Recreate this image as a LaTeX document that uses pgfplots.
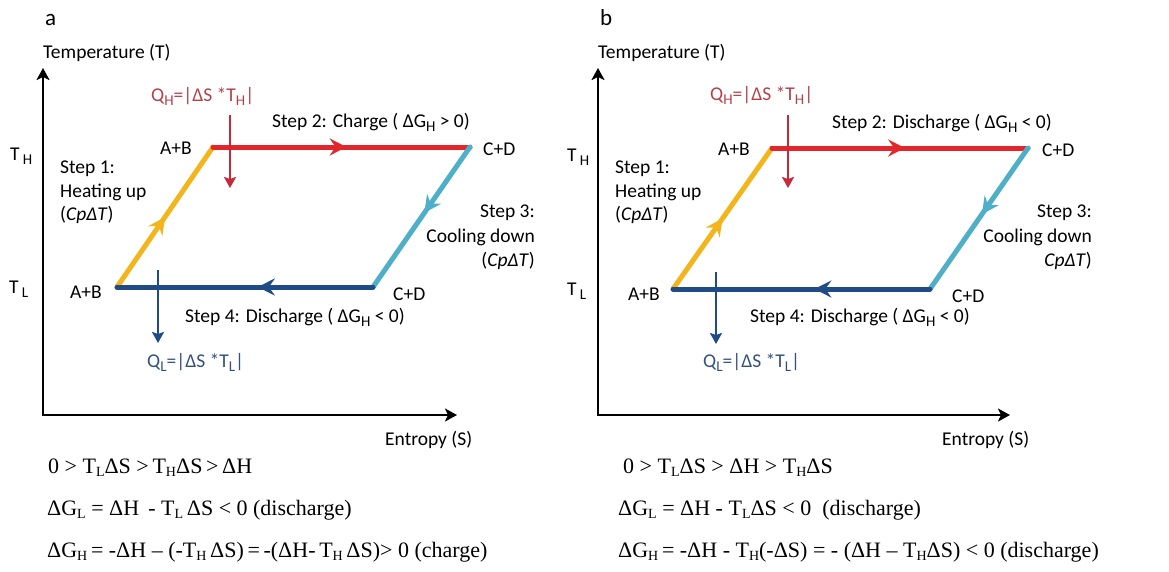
\documentclass[border=0pt]{standalone}
\usepackage{fontspec}
\setmainfont{Carlito}
\newfontfamily\tnr{Liberation Serif}
\usepackage{pgfplots}
\pgfplotsset{compat=1.18}
\usetikzlibrary{arrows.meta,decorations.markings}
\definecolor{cred}{HTML}{E3262B}
\definecolor{cyel}{HTML}{F2B51C}
\definecolor{ccyan}{HTML}{4FAFC8}
\definecolor{cblue}{HTML}{1F4B86}
\definecolor{qred}{HTML}{B5404A}
\definecolor{qblue}{HTML}{34507F}
\definecolor{qarrowred}{HTML}{C8283A}
\newcommand{\lab}{\fontsize{19.5}{23}\selectfont}
\newcommand{\sub}[1]{\raisebox{-0.45ex}{\fontsize{15}{16}\selectfont #1}}
\newcommand{\eq}{\tnr\fontsize{22}{26}\selectfont}
\newcommand{\tsub}[1]{\raisebox{-0.35ex}{\fontsize{14}{15}\selectfont #1}}
\tikzset{
  cyc/.style={line width=5pt,line cap=round,postaction=decorate,
    decoration={markings,mark=at position #1 with {\arrow{Stealth[length=17pt 0 1,width=17pt 0 1,inset=6pt 0 1]}}}},
  qarr/.style={line width=2.5pt,-{Stealth[length=11pt,width=12pt,inset=2pt]}},
  ax/.style={line width=2.6pt,{Stealth[length=12pt,width=13pt,inset=3pt]}-{Stealth[length=12pt,width=13pt,inset=3pt]}},
}
\begin{document}
\begin{tikzpicture}
\begin{axis}[hide axis, scale only axis, width=1169pt, height=571pt,
  xmin=0, xmax=1169, ymin=0, ymax=571, y dir=reverse, clip=false]
\path (rel axis cs:0,0) rectangle (rel axis cs:1,1);
% ---------- panel a ----------
\addplot[ax,black] coordinates {(43,68) (43,415) (457,415)};
\addplot[cyc=0.5,cyel,draw=cyel] coordinates {(117,287) (213,147)};
\addplot[cyc=0.52,cred,draw=cred] coordinates {(213,147) (470,147)};
\addplot[cyc=0.47,ccyan,draw=ccyan] coordinates {(470,147) (373,287)};
\addplot[cyc=0.45,cblue,draw=cblue] coordinates {(373,287) (117,287)};
\addplot[qarr,qarrowred] coordinates {(230,115) (230,188)};
\addplot[qarr,cblue] coordinates {(158,270) (158,343)};
% ---------- panel b ----------
\addplot[ax,black] coordinates {(598,68) (598,415) (1010,415)};
\addplot[cyc=0.5,cyel,draw=cyel] coordinates {(673,289) (772,148)};
\addplot[cyc=0.52,cred,draw=cred] coordinates {(772,148) (1028,148)};
\addplot[cyc=0.47,ccyan,draw=ccyan] coordinates {(1028,148) (930,289)};
\addplot[cyc=0.45,cblue,draw=cblue] coordinates {(930,289) (673,289)};
\addplot[qarr,qarrowred] coordinates {(788,115) (788,188)};
\addplot[qarr,cblue] coordinates {(716,272) (716,344)};
% ---------- text panel a ----------
\node[anchor=base west,inner sep=0pt] at (45,25) {\fontsize{23}{26}\selectfont a};
\node[anchor=base west,inner sep=0pt] at (43,58) {\lab Temperature (T)};
\node[anchor=base west,inner sep=0pt] at (10,160) {\lab T\,\sub{H}};
\node[anchor=base west,inner sep=0pt] at (9,293) {\lab T\,\sub{L}};
\node[anchor=base west,inner sep=0pt,text=qred] at (151,101) {\lab Q\sub{H}=|ΔS *T\sub{H}|};
\node[anchor=base west,inner sep=0pt] at (272,127) {\lab Step 2: Charge ( ΔG\sub{H} > 0)};
\node[anchor=base west,inner sep=0pt] at (160,154) {\lab A+B};
\node[anchor=base west,inner sep=0pt] at (483,155) {\lab C+D};
\node[anchor=base west,inner sep=0pt] at (60,173) {\lab Step 1:};
\node[anchor=base west,inner sep=0pt] at (60,197) {\lab Heating up};
\node[anchor=base west,inner sep=0pt] at (60,220) {\lab (\textit{CpΔT})};
\node[anchor=base east,inner sep=0pt] at (535,217) {\lab Step 3:};
\node[anchor=base east,inner sep=0pt] at (535,242) {\lab Cooling down};
\node[anchor=base east,inner sep=0pt] at (535,266) {\lab (\textit{CpΔT})};
\node[anchor=base west,inner sep=0pt] at (70,298) {\lab A+B};
\node[anchor=base west,inner sep=0pt] at (393,300) {\lab C+D};
\node[anchor=base west,inner sep=0pt] at (185,322) {\lab Step 4: Discharge ( ΔG\sub{H} < 0)};
\node[anchor=base west,inner sep=0pt,text=qblue] at (147,367) {\lab Q\sub{L}=|ΔS *T\sub{L}|};
\node[anchor=base west,inner sep=0pt] at (385,445) {\lab Entropy (S)};
\node[anchor=base west,inner sep=0pt] at (48,473) {\eq 0 > T\tsub{L}ΔS >\,T\tsub{H}ΔS\,>\,ΔH};
\node[anchor=base west,inner sep=0pt] at (47,515) {\eq ΔG\tsub{L} = ΔH\, - T\tsub{L}\,ΔS < 0 (discharge)};
\node[anchor=base west,inner sep=0pt] at (47,557) {\eq ΔG\tsub{H}\,= -ΔH – (-T\tsub{H}\,ΔS)\,=\,-(ΔH-\,T\tsub{H}\,ΔS)> 0 (charge)};
% ---------- text panel b ----------
\node[anchor=base west,inner sep=0pt] at (600,25) {\fontsize{23}{26}\selectfont b};
\node[anchor=base west,inner sep=0pt] at (598,58) {\lab Temperature (T)};
\node[anchor=base west,inner sep=0pt] at (567,161) {\lab T\,\sub{H}};
\node[anchor=base west,inner sep=0pt] at (567,295) {\lab T\,\sub{L}};
\node[anchor=base west,inner sep=0pt,text=qred] at (710,100) {\lab Q\sub{H}=|ΔS *T\sub{H}|};
\node[anchor=base west,inner sep=0pt] at (832,128) {\lab Step 2: Discharge ( ΔG\sub{H} < 0)};
\node[anchor=base west,inner sep=0pt] at (718,155) {\lab A+B};
\node[anchor=base west,inner sep=0pt] at (1042,156) {\lab C+D};
\node[anchor=base west,inner sep=0pt] at (615,173) {\lab Step 1:};
\node[anchor=base west,inner sep=0pt] at (615,197) {\lab Heating up};
\node[anchor=base west,inner sep=0pt] at (615,220) {\lab (\textit{CpΔT})};
\node[anchor=base east,inner sep=0pt] at (1092,217) {\lab Step 3:};
\node[anchor=base east,inner sep=0pt] at (1092,242) {\lab Cooling down};
\node[anchor=base east,inner sep=0pt] at (1092,266) {\lab \textit{CpΔT})};
\node[anchor=base west,inner sep=0pt] at (628,300) {\lab A+B};
\node[anchor=base west,inner sep=0pt] at (952,302) {\lab C+D};
\node[anchor=base west,inner sep=0pt] at (750,322) {\lab Step 4: Discharge ( ΔG\sub{H} < 0)};
\node[anchor=base west,inner sep=0pt,text=qblue] at (703,367) {\lab Q\sub{L}=|ΔS *T\sub{L}|};
\node[anchor=base west,inner sep=0pt] at (942,445) {\lab Entropy (S)};
\node[anchor=base west,inner sep=0pt] at (623,473) {\eq 0 > T\tsub{L}ΔS > ΔH > T\tsub{H}ΔS};
\node[anchor=base west,inner sep=0pt] at (618,515) {\eq ΔG\tsub{L} = ΔH - T\tsub{L}ΔS < 0 \ (discharge)};
\node[anchor=base west,inner sep=0pt] at (618,557) {\eq ΔG\tsub{H}\,= -ΔH - T\tsub{H}(-ΔS) = - (ΔH – T\tsub{H}ΔS) < 0 (discharge)};
\end{axis}
\end{tikzpicture}
\end{document}
